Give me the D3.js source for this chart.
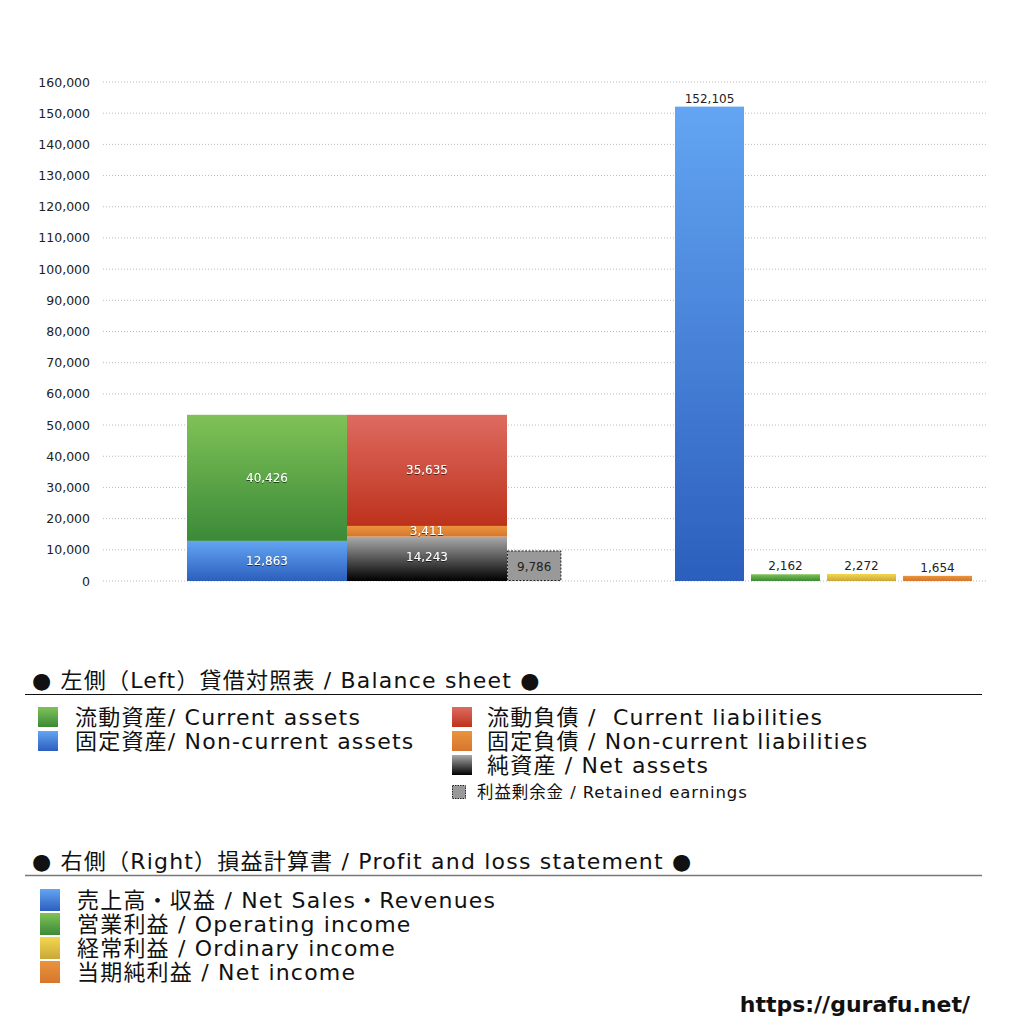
<!DOCTYPE html>
<html>
<head>
<meta charset="utf-8">
<script src="https://cdn.jsdelivr.net/npm/d3@7"></script>
<style>
  body { margin: 0; background: #fff; }
  text { font-family: "DejaVu Sans", "Noto Sans CJK JP", sans-serif; }
  .lgt { letter-spacing: 1.2px; }
</style>
</head>
<body>
<svg id="chart" width="1024" height="1024"></svg>
<script>
// balance sheet (left)
var assetNames = ["固定資産", "流動資産"];
var assetValues = [12863, 40426];
var liabNames = ["純資産", "固定負債", "流動負債"];
var liabValues = [14243, 3411, 35635];
var retainedValue = 9786;

// profit and loss (right)
var plNames = ["売上高", "営業利益", "経常利益", "当期純利益"];
var plValues = [152105, 2162, 2272, 1654];

var yTicks = [0, 10000, 20000, 30000, 40000, 50000, 60000, 70000, 80000,
              90000, 100000, 110000, 120000, 130000, 140000, 150000, 160000];

var svg = d3.select('#chart');
var fmt = d3.format(',');

// gradients
var defs = svg.append('defs');
var grads = {
  green: ['#80c257', '#3a8a38'],
  blue: ['#63a5f3', '#2c5fbd'],
  red: ['#de6b60', '#bd321c'],
  orange: ['#ea943c', '#d6762e'],
  black: ['#aaaaaa', '#000000'],
  yellow: ['#f3d84c', '#c9a73a']
};
Object.keys(grads).forEach(function(k){
  var g = defs.append('linearGradient').attr('id', 'g_' + k)
    .attr('x1', 0).attr('y1', 0).attr('x2', 0).attr('y2', 1);
  g.append('stop').attr('offset', '0%').attr('stop-color', grads[k][0]);
  g.append('stop').attr('offset', '100%').attr('stop-color', grads[k][1]);
});
var shadow = defs.append('filter').attr('id', 'tshadow');
shadow.append('feDropShadow').attr('dx', 0).attr('dy', 1)
  .attr('stdDeviation', 0.6).attr('flood-color', '#000').attr('flood-opacity', 0.6);

var y = d3.scaleLinear().domain([0, 160000]).range([581, 82]);

// grid
svg.append('g').selectAll('line').data(yTicks).enter().append('line')
  .attr('x1', 103).attr('x2', 988)
  .attr('y1', function(d){ return y(d); })
  .attr('y2', function(d){ return y(d); })
  .attr('stroke', '#bbb').attr('stroke-width', 1)
  .attr('stroke-dasharray', '1,2');

var yAxis = d3.axisLeft(y).tickValues(yTicks).tickFormat(fmt).tickSize(0).tickPadding(0);
var ax = svg.append('g').attr('transform', 'translate(90,0)').call(yAxis);
ax.select('.domain').remove();
ax.selectAll('text').attr('font-size', 12.5).attr('fill', '#222')
  .style('font-family', '"DejaVu Sans", sans-serif');

// left group
var xLeft = d3.scaleBand().domain(['assets', 'liab', 'retained'])
  .range([187, 667]).padding(0);

function stack(vals){
  var out = [], acc = 0;
  vals.forEach(function(v){ out.push([acc, acc + v]); acc += v; });
  return out;
}
var assetStack = stack(assetValues);
var liabStack = stack(liabValues);
var assetFill = ['url(#g_blue)', 'url(#g_green)'];
var liabFill = ['url(#g_black)', 'url(#g_orange)', 'url(#g_red)'];

var gL = svg.append('g');
gL.selectAll('rect.asset').data(assetStack).enter().append('rect')
  .attr('x', xLeft('assets')).attr('width', xLeft.bandwidth())
  .attr('y', function(d){ return y(d[1]); })
  .attr('height', function(d){ return y(d[0]) - y(d[1]); })
  .attr('fill', function(d, i){ return assetFill[i]; });
gL.selectAll('rect.liab').data(liabStack).enter().append('rect')
  .attr('x', xLeft('liab')).attr('width', xLeft.bandwidth())
  .attr('y', function(d){ return y(d[1]); })
  .attr('height', function(d){ return y(d[0]) - y(d[1]); })
  .attr('fill', function(d, i){ return liabFill[i]; });

gL.selectAll('text.asset').data(assetStack).enter().append('text')
  .attr('x', xLeft('assets') + xLeft.bandwidth() / 2)
  .attr('y', function(d){ return (y(d[0]) + y(d[1])) / 2 + 4; })
  .attr('text-anchor', 'middle').attr('font-size', 12).attr('fill', '#fff')
  .attr('filter', 'url(#tshadow)')
  .text(function(d, i){ return fmt(assetValues[i]); });
gL.selectAll('text.liab').data(liabStack).enter().append('text')
  .attr('x', xLeft('liab') + xLeft.bandwidth() / 2)
  .attr('y', function(d, i){ return (y(d[0]) + y(d[1])) / 2 + (i == 0 ? 2 : 4); })
  .attr('text-anchor', 'middle').attr('font-size', 12).attr('fill', '#fff')
  .attr('filter', 'url(#tshadow)')
  .text(function(d, i){ return fmt(liabValues[i]); });

// retained earnings
var rw = xLeft.bandwidth() * 0.34;
gL.append('rect')
  .attr('x', xLeft('retained') + 0.5).attr('width', rw - 1)
  .attr('y', y(retainedValue) + 0.5).attr('height', y(0) - y(retainedValue) - 1)
  .attr('fill', '#999').attr('stroke', '#222').attr('stroke-dasharray', '2,1.5');
gL.append('text')
  .attr('x', xLeft('retained') + rw / 2)
  .attr('y', (y(0) + y(retainedValue)) / 2 + 5)
  .attr('text-anchor', 'middle').attr('font-size', 12).attr('fill', '#222')
  .text(fmt(retainedValue));

// right group
var xRight = d3.scaleBand().domain(plNames).range([671.5, 975.5])
  .paddingInner(0.092).paddingOuter(0.046);
var plFill = ['url(#g_blue)', 'url(#g_green)', 'url(#g_yellow)', 'url(#g_orange)'];
var gR = svg.append('g');
gR.selectAll('rect').data(plValues).enter().append('rect')
  .attr('x', function(d, i){ return xRight(plNames[i]); })
  .attr('width', xRight.bandwidth())
  .attr('y', function(d){ return y(d); })
  .attr('height', function(d){ return y(0) - y(d); })
  .attr('fill', function(d, i){ return plFill[i]; });
gR.selectAll('text').data(plValues).enter().append('text')
  .attr('x', function(d, i){ return xRight(plNames[i]) + xRight.bandwidth() / 2; })
  .attr('y', function(d){ return y(d) - 4; })
  .attr('text-anchor', 'middle').attr('font-size', 12).attr('fill', '#222')
  .text(function(d){ return fmt(d); });

// legend: balance sheet
var lg = svg.append('g');
lg.append('text').attr('class', 'lgt').attr('x', 32).attr('y', 688).attr('font-size', 22).attr('fill', '#111')
  .text('● 左側（Left）貸借対照表 / Balance sheet ●');
lg.append('line').attr('x1', 25).attr('x2', 982).attr('y1', 694.5).attr('y2', 694.5)
  .attr('stroke', '#111').attr('stroke-width', 1.2);

var bsLeftNames = ['流動資産/ Current assets', '固定資産/ Non-current assets'];
var bsLeftFill = ['url(#g_green)', 'url(#g_blue)'];
var bsRightNames = ['流動負債 /  Current liabilities', '固定負債 / Non-current liabilities', '純資産 / Net assets'];
var bsRightFill = ['url(#g_red)', 'url(#g_orange)', 'url(#g_black)'];

lg.selectAll('rect.bl').data(bsLeftNames).enter().append('rect')
  .attr('x', 38).attr('y', function(d, i){ return 707 + i * 24; })
  .attr('width', 20).attr('height', 20)
  .attr('fill', function(d, i){ return bsLeftFill[i]; });
lg.selectAll('text.bl').data(bsLeftNames).enter().append('text')
  .attr('class', 'lgt')
  .attr('x', 75).attr('y', function(d, i){ return 725 + i * 24; })
  .attr('font-size', 22).attr('fill', '#111').text(function(d){ return d; });
lg.selectAll('rect.br').data(bsRightNames).enter().append('rect')
  .attr('x', 452).attr('y', function(d, i){ return 707 + i * 24; })
  .attr('width', 20).attr('height', 20)
  .attr('fill', function(d, i){ return bsRightFill[i]; });
lg.selectAll('text.br').data(bsRightNames).enter().append('text')
  .attr('class', 'lgt')
  .attr('x', 487).attr('y', function(d, i){ return 725 + i * 24; })
  .attr('font-size', 22).attr('fill', '#111')
  .style('white-space', 'pre').text(function(d){ return d; });
lg.append('rect').attr('x', 452.5).attr('y', 785.5).attr('width', 13).attr('height', 13)
  .attr('fill', '#999').attr('stroke', '#222').attr('stroke-dasharray', '1.5,1');
lg.append('text').attr('x', 477).attr('y', 798).attr('font-size', 16.5).attr('fill', '#111')
  .style('letter-spacing', '0.9px')
  .text('利益剰余金 / Retained earnings');

// legend: profit and loss
lg.append('text').attr('class', 'lgt').attr('x', 32).attr('y', 869).attr('font-size', 22).attr('fill', '#111')
  .text('● 右側（Right）損益計算書 / Profit and loss statement ●');
lg.append('line').attr('x1', 25).attr('x2', 982).attr('y1', 875.5).attr('y2', 875.5)
  .attr('stroke', '#777').attr('stroke-width', 1.5);

var plLegend = ['売上高・収益 / Net Sales・Revenues', '営業利益 / Operating income',
                '経常利益 / Ordinary income', '当期純利益 / Net income'];
lg.selectAll('rect.pl').data(plLegend).enter().append('rect')
  .attr('x', 40).attr('y', function(d, i){ return 889 + i * 24; })
  .attr('width', 20).attr('height', 22)
  .attr('fill', function(d, i){ return plFill[i]; });
lg.selectAll('text.pl').data(plLegend).enter().append('text')
  .attr('class', 'lgt')
  .attr('x', 77).attr('y', function(d, i){ return 908 + i * 24; })
  .attr('font-size', 22).attr('fill', '#111').text(function(d){ return d; });

svg.append('text').attr('x', 970).attr('y', 1012).attr('text-anchor', 'end')
  .attr('font-size', 22).attr('font-weight', 'bold').attr('fill', '#111')
  .text('https://gurafu.net/');
</script>
</body>
</html>
